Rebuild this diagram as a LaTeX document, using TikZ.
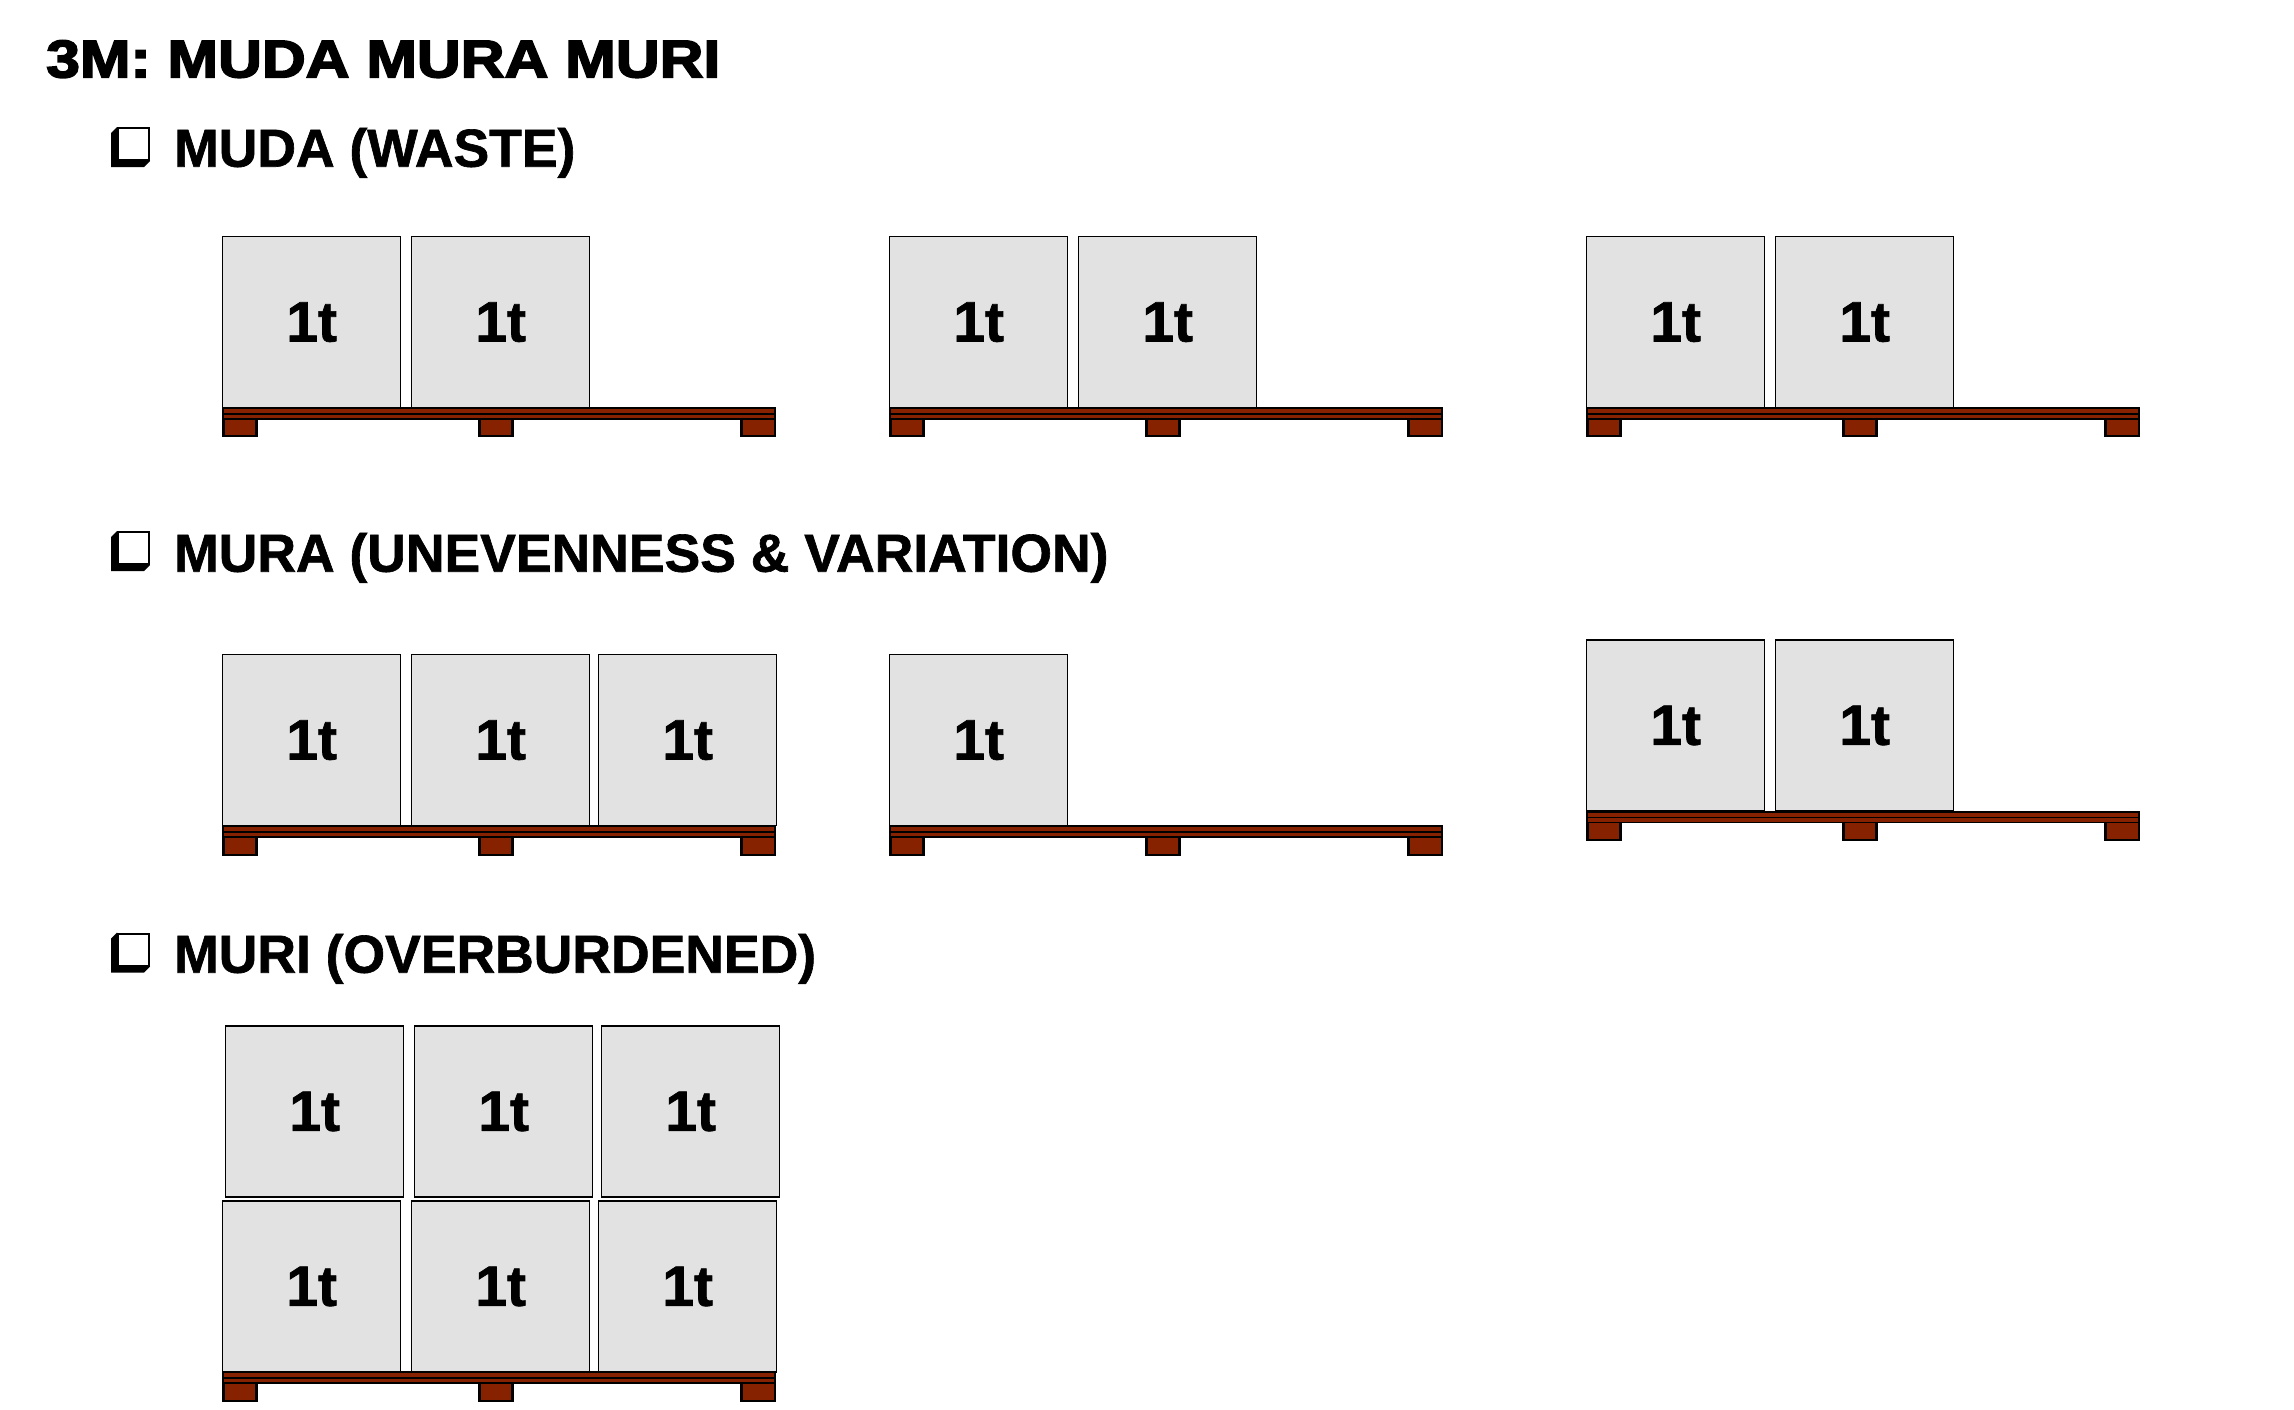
\documentclass[tikz,border=0pt]{standalone}
\usepackage{fontspec}
\usepackage{graphicx}
\setmainfont{Liberation Sans}
\newfontfamily\blackfont{Liberation Sans}[BoldFeatures={FakeBold=3}]
\newfontfamily\heavyfont{Liberation Sans}[BoldFeatures={FakeBold=1.2}]
\definecolor{palletred}{RGB}{134,34,0}
\definecolor{crategray}{RGB}{226,226,226}
\tikzset{
  crate/.style={draw=black, line width=1.3pt, fill=crategray, minimum width=178pt,
    minimum height=171pt, inner sep=0pt, anchor=north west,
    font=\heavyfont\fontsize{57}{60}\selectfont\bfseries},
  heading/.style={anchor=base west, inner sep=0pt, font=\heavyfont\fontsize{53.5}{60}\selectfont\bfseries},
}
\newcommand{\drawpallet}[2]{%
  \fill[black] (#1,#2) rectangle ++(554,12.7);
  \fill[palletred] (#1+2,#2+1.8) rectangle (#1+552,#2+5.8);
  \fill[palletred] (#1+2,#2+7.6) rectangle (#1+552,#2+10.9);
  \foreach \fx in {0,256,518.4} {
    \fill[black] (#1+\fx,#2+12.7) rectangle ++(35.6,17.6);
    \fill[palletred] (#1+\fx+2.5,#2+12.7) rectangle ++(30.6,15.6);
  }
}
\newcommand{\chkbox}[1]{%
  \fill[black] (117,#1) -- (111,#1+6) -- (111,#1+40) -- (144,#1+40) -- (150,#1+34) -- cycle;
  \filldraw[fill=white, draw=black, line width=2pt] (118,#1+1) rectangle (149,#1+33);
}
\begin{document}
\begin{tikzpicture}[x=1pt,y=-1pt]
\useasboundingbox (0,0) rectangle (2294,1410);
\fill[white] (0,0) rectangle (2294,1410);

% title and headings
\node[anchor=base west, inner sep=0pt, font=\blackfont\fontsize{53}{60}\selectfont\bfseries] (title) at (46,77.3) {\scalebox{1.145}[1]{3M: MUDA MURA MURI}};
\chkbox{127}
\node[heading] (hmuda) at (174,166.7) {MUDA (WASTE)};
\chkbox{531}
\node[heading] (hmura) at (174,571.7) {MURA (UNEVENNESS \& VARIATION)};
\chkbox{932.5}
\node[heading] (hmuri) at (174,972.7) {MURI (OVERBURDENED)};

% row 1: muda
\drawpallet{222}{407}
\drawpallet{889}{407}
\drawpallet{1586}{407}
\node[crate] (a1) at (222,236) {1t};
\node[crate] (a2) at (411,236) {1t};
\node[crate] (b1) at (889,236) {1t};
\node[crate] (b2) at (1078,236) {1t};
\node[crate] (c1) at (1586,236) {1t};
\node[crate] (c2) at (1775,236) {1t};

% row 2: mura
\drawpallet{222}{825.3}
\drawpallet{889}{825.3}
\drawpallet{1586}{810.7}
\node[crate] (d1) at (222,654) {1t};
\node[crate] (d2) at (411,654) {1t};
\node[crate] (d3) at (598,654) {1t};
\node[crate] (e1) at (889,654) {1t};
\node[crate] (f1) at (1586,639.3) {1t};
\node[crate] (f2) at (1775,639.3) {1t};

% row 3: muri
\drawpallet{222}{1371.3}
\node[crate] (g1) at (225,1025.3) {1t};
\node[crate] (g2) at (414,1025.3) {1t};
\node[crate] (g3) at (601,1025.3) {1t};
\node[crate] (h1) at (222,1200.3) {1t};
\node[crate] (h2) at (411,1200.3) {1t};
\node[crate] (h3) at (598,1200.3) {1t};
\end{tikzpicture}
\end{document}
